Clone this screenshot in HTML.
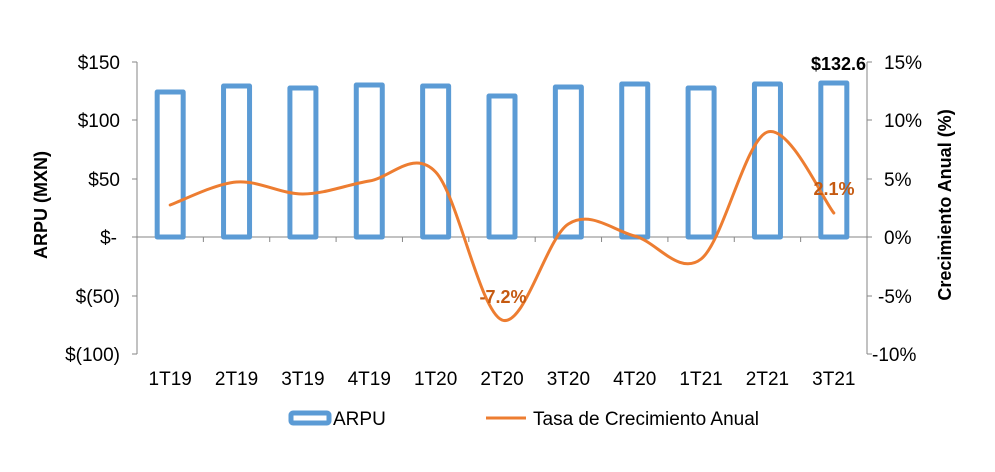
<!DOCTYPE html>
<html><head><meta charset="utf-8"><style>
body{margin:0;background:#fff;}
svg text{font-family:"Liberation Sans",sans-serif;}
</style></head><body>
<svg width="995" height="467" viewBox="0 0 995 467" xmlns="http://www.w3.org/2000/svg">
<g stroke="#868686" stroke-width="1" fill="none">
<line x1="137" y1="62" x2="137" y2="354"/>
<line x1="867" y1="62" x2="867" y2="354"/>
<line x1="137" y1="237" x2="867" y2="237"/>
<g id="lt"></g>
</g>
<g id="bars" fill="none" stroke="#5B9BD5" stroke-width="5" stroke-linejoin="round"></g>
<path id="line" fill="none" stroke="#ED7D31" stroke-width="3" stroke-linecap="round"/>
<g font-size="19" fill="#000" text-anchor="end">
<text x="120" y="69">$150</text><text x="120" y="127">$100</text><text x="120" y="186">$50</text>
<text x="117" y="244">$-</text><text x="120" y="303">$(50)</text><text x="120" y="361">$(100)</text>
</g>
<g font-size="19" fill="#000" text-anchor="start">
<text x="884" y="69">15%</text><text x="884" y="127">10%</text><text x="884" y="186">5%</text>
<text x="884" y="244">0%</text><text x="878" y="303">-5%</text><text x="872" y="361">-10%</text>
</g>
<g font-size="19" fill="#000" text-anchor="middle" id="cats"></g>
<text transform="translate(47,205) rotate(-90)" font-size="18" font-weight="bold" text-anchor="middle">ARPU (MXN)</text>
<text transform="translate(951,205) rotate(-90)" font-size="18" font-weight="bold" text-anchor="middle">Crecimiento Anual (%)</text>
<text x="866" y="70" font-size="18" font-weight="bold" text-anchor="end">$132.6</text>
<text x="834" y="195" font-size="18" font-weight="bold" fill="#C55A11" text-anchor="middle">2.1%</text>
<text x="503" y="303" font-size="18" font-weight="bold" fill="#C55A11" text-anchor="middle">-7.2%</text>
<rect x="291" y="413" width="38" height="10" rx="2" fill="none" stroke="#5B9BD5" stroke-width="5"/>
<text x="333" y="425" font-size="19">ARPU</text>
<line x1="486" y1="418" x2="526" y2="418" stroke="#ED7D31" stroke-width="3"/>
<text x="533" y="425" font-size="19">Tasa de Crecimiento Anual</text>
</svg>
<script>
var ns="http://www.w3.org/2000/svg";
var w=730/11, tops=[92,86,88,85,86,96,87,84,88,84,83];
var names=["1T19","2T19","3T19","4T19","1T20","2T20","3T20","4T20","1T21","2T21","3T21"];
var ly=[205,182,194,181,172,320,224,236,259,132,213];
var b=document.getElementById("bars"),c=document.getElementById("cats"),lt=document.getElementById("lt");
var pts=[];
for(var i=0;i<11;i++){var cx=137+w*(i+0.5);
var r=document.createElementNS(ns,"rect");r.setAttribute("x",cx-13);r.setAttribute("y",tops[i]);r.setAttribute("width",26);r.setAttribute("height",237-tops[i]);b.appendChild(r);
var t=document.createElementNS(ns,"text");t.setAttribute("x",cx);t.setAttribute("y",385);t.textContent=names[i];c.appendChild(t);
pts.push([cx,ly[i]]);}
for(var i=0;i<=11;i++){var x=137+w*i;var l=document.createElementNS(ns,"line");l.setAttribute("x1",x);l.setAttribute("x2",x);l.setAttribute("y1",237);l.setAttribute("y2",242);lt.appendChild(l);}
[62,120,179,237,296,354].forEach(function(y){var l=document.createElementNS(ns,"line");l.setAttribute("x1",132);l.setAttribute("x2",137);l.setAttribute("y1",y);l.setAttribute("y2",y);lt.appendChild(l);
l=document.createElementNS(ns,"line");l.setAttribute("x1",867);l.setAttribute("x2",872);l.setAttribute("y1",y);l.setAttribute("y2",y);lt.appendChild(l);});
var d="M"+pts[0][0]+","+pts[0][1];
for(var i=0;i<10;i++){var p0=pts[Math.max(i-1,0)],p1=pts[i],p2=pts[i+1],p3=pts[Math.min(i+2,10)];
var k=1/6;d+=" C"+(p1[0]+(p2[0]-p0[0])*k)+","+(p1[1]+(p2[1]-p0[1])*k)+" "+(p2[0]-(p3[0]-p1[0])*k)+","+(p2[1]-(p3[1]-p1[1])*k)+" "+p2[0]+","+p2[1];}
document.getElementById("line").setAttribute("d",d);
</script>
</body></html>
